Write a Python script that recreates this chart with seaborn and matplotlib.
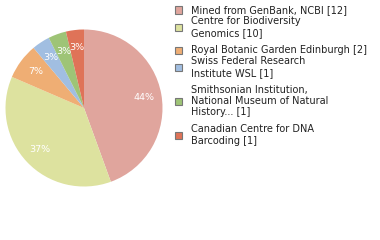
import matplotlib
matplotlib.use("Agg")
import matplotlib.pyplot as plt
import seaborn as sns
from matplotlib.patches import Rectangle

labels = ["Mined from GenBank, NCBI [12]",
          "Centre for Biodiversity\nGenomics [10]",
          "Royal Botanic Garden Edinburgh [2]",
          "Swiss Federal Research\nInstitute WSL [1]",
          "Smithsonian Institution,\nNational Museum of Natural\nHistory... [1]",
          "Canadian Centre for DNA\nBarcoding [1]"]
counts = [12, 10, 2, 1, 1, 1]
colors = ["#E0A59D", "#DDE29F", "#EFAE74", "#A1BEE1", "#9EC476", "#DF7358"]

sns.set_style("white")
plt.rcParams['font.family'] = ['DejaVu Sans']

fig = plt.figure(figsize=(3.8, 2.4), dpi=100)
R = 78.5
ax = fig.add_axes([(84 - R)/380, (240 - 108 - R)/240, 2*R/380, 2*R/240])
wedges, texts, autotexts = ax.pie(
    counts, colors=colors, startangle=90, counterclock=False,
    autopct=lambda p: f"{int(p)}%", pctdistance=0.77,
    wedgeprops=dict(linewidth=0),
    textprops=dict(color="white", fontsize=6.8))
ax.set_xlim(-1, 1)
ax.set_ylim(-1, 1)
ax.set_aspect('equal')
ax.axis('off')

# legend
sq_y = [10, 27, 50, 67, 101, 135]
for lab, c, y in zip(labels, colors, sq_y):
    fig.patches.append(Rectangle((175/380, 1 - (y + 3.5)/240), 7/380, 7/240,
                                 transform=fig.transFigure, facecolor=c,
                                 edgecolor="#777777", linewidth=0.8))
    fig.text(191/380, 1 - y/240, lab, fontsize=7, color="#222222",
             va="center", ha="left", linespacing=1.15)

fig.savefig("out.png", dpi=100)
